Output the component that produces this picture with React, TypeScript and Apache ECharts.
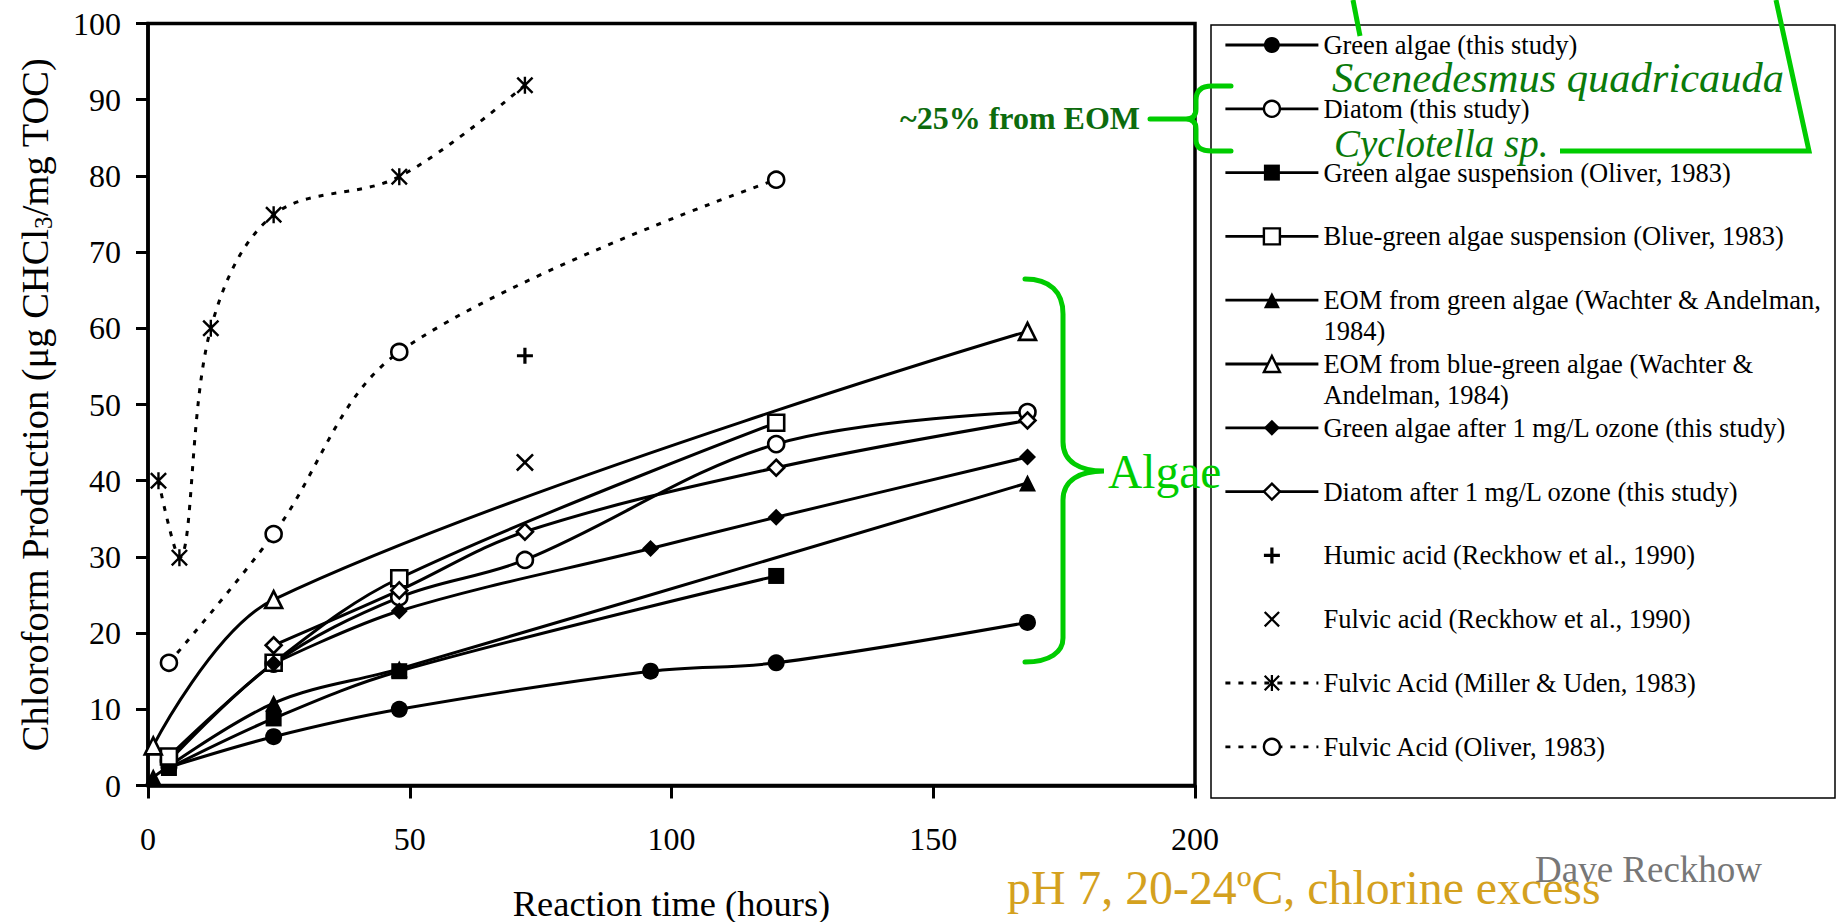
import React, { useEffect, useRef } from 'react';
import * as echarts from 'echarts';

const SERIF = "'Liberation Serif', 'Times New Roman', serif";

// ---------- data ----------
const seriesNames = [
  'Green algae (this study)',
  'Diatom (this study)',
  'Green algae suspension (Oliver, 1983)',
  'Blue-green algae suspension (Oliver, 1983)',
  'EOM from green algae (Wachter & Andelman, 1984)',
  'EOM from blue-green algae (Wachter & Andelman, 1984)',
  'Green algae after 1 mg/L ozone (this study)',
  'Diatom after 1 mg/L ozone (this study)',
  'Humic acid (Reckhow et al., 1990)',
  'Fulvic acid (Reckhow et al., 1990)',
  'Fulvic Acid (Miller & Uden, 1983)',
  'Fulvic Acid (Oliver, 1983)',
];

// [reaction time (hours), chloroform (µg CHCl3 / mg TOC)]
const greenAlgae = [[4, 2.4], [24, 6.4], [48, 10.0], [96, 15.0], [120, 16.1], [168, 21.4]];
const diatom = [[4, 3.2], [24, 16.0], [48, 24.7], [72, 29.6], [120, 44.8], [168, 49.0]];
const greenSuspension = [[4, 2.3], [24, 8.8], [48, 15.0], [120, 27.5]];
const blueGreenSuspension = [[4, 3.8], [24, 16.1], [48, 27.2], [120, 47.6]];
const eomGreen = [[1, 1.1], [24, 10.8], [48, 15.3], [168, 39.7]];
const eomBlueGreen = [[1, 5.2], [24, 24.4], [168, 59.6]];
const greenOzone = [[24, 16.0], [48, 22.9], [96, 31.1], [120, 35.2], [168, 43.1]];
const diatomOzone = [[24, 18.4], [48, 25.6], [72, 33.3], [120, 41.7], [168, 47.9]];
const humicAcid = [[72, 56.4]];
const fulvicReckhow = [[72, 42.4]];
const fulvicMillerUden = [[2, 40.0], [6, 29.9], [12, 60.0], [24, 74.9], [48, 79.9], [72, 91.9]];
const fulvicOliver = [[4, 16.1], [24, 33.0], [48, 56.9], [120, 79.5]];

const xMin = 0, xMax = 200, xStep = 50;
const yMin = 0, yMax = 100, yStep = 10;

const legendWrapped: Record<string, string[]> = {
  'EOM from green algae (Wachter & Andelman, 1984)': ['EOM from green algae (Wachter & Andelman,', '1984)'],
  'EOM from blue-green algae (Wachter & Andelman, 1984)': ['EOM from blue-green algae (Wachter &', 'Andelman, 1984)'],
};
const markerOnly = ['Humic acid (Reckhow et al., 1990)', 'Fulvic acid (Reckhow et al., 1990)'];

// ---------- symbols ----------
const PLUS = 'path://M4,0H6V4H10V6H6V10H4V6H0V4H4Z';
const CROSS = 'path://M0,1L1,0L5,4L9,0L10,1L6,5L10,9L9,10L5,6L1,10L0,9L4,5Z';
const STAR = 'path://M0,1L1,0L5,4L9,0L10,1L6,5L10,9L9,10L5,6L1,10L0,9L4,5Z M4.3,0H5.7V10H4.3Z';

// ---------- annotation shapes ----------
echarts.graphic.registerShape(
  'bigBrace',
  echarts.graphic.extendPath(
    'M1025,279 C1050,279 1063,292 1063,314 L1063,442 C1063,462 1080,471 1104,471 C1080,471 1063,480 1063,500 L1063,638 C1063,652 1050,662 1025,662',
    {}
  ) as any
);
echarts.graphic.registerShape(
  'smallBrace',
  echarts.graphic.extendPath(
    'M1231,86 L1212,86 C1201,86 1196,91 1196,100 L1196,109 C1196,116 1192,119 1186,119 C1192,119 1196,122 1196,129 L1196,140 C1196,147 1201,151 1212,151 L1231,151 M1150,119 L1186,119',
    {}
  ) as any
);

function mk(
  name: string,
  data: number[][],
  symbol: string,
  symbolSize: number,
  opt: { dashed?: boolean; noLine?: boolean; hollow?: boolean } = {}
) {
  return {
    type: 'line',
    name,
    data,
    symbol,
    symbolSize,
    smooth: 0.35,
    showSymbol: true,
    lineStyle: {
      color: '#000',
      width: opt.noLine ? 0 : 3,
      type: opt.dashed ? [5, 8] : 'solid',
    },
    itemStyle: opt.hollow
      ? { color: '#fff', borderColor: '#000', borderWidth: 2.6 }
      : { color: '#000', borderWidth: 0 },
    emphasis: { disabled: true },
  };
}

const LEGEND_LINE = 31;

export default function App() {
  const ref = useRef<HTMLDivElement>(null);
  useEffect(() => {
    if (!ref.current) return;
    const chart = echarts.init(ref.current, undefined, { renderer: 'svg' });
    const axisText = { fontFamily: SERIF, fontSize: 32, color: '#000' };
    const legendData = seriesNames.map((name) => ({
      name,
      textStyle: {
        padding: legendWrapped[name] ? [LEGEND_LINE, 0, 0, 0] : [LEGEND_LINE, 0, LEGEND_LINE, 0],
      },
      ...(markerOnly.includes(name) ? { lineStyle: { width: 0 } } : {}),
    }));
    const option: any = {
      animation: false,
      backgroundColor: '#fff',
      grid: {
        left: 148, right: 648, top: 23.5, bottom: 136.5,
        show: true, borderColor: '#000', borderWidth: 3.5,
        containLabel: false, outerBoundsMode: 'none',
      },
      xAxis: {
        type: 'value', min: xMin, max: xMax, interval: xStep,
        axisLine: { show: true, lineStyle: { color: '#000', width: 3.5 } },
        axisTick: { show: true, inside: false, length: 13, lineStyle: { color: '#000', width: 3 } },
        axisLabel: { ...axisText, margin: 37 },
        splitLine: { show: false },
        name: 'Reaction time (hours)',
        nameLocation: 'middle',
        nameGap: 100,
        nameTextStyle: { fontFamily: SERIF, fontSize: 36.4, color: '#000' },
      },
      yAxis: {
        type: 'value', min: yMin, max: yMax, interval: yStep,
        axisLine: { show: true, lineStyle: { color: '#000', width: 3.5 } },
        axisTick: { show: true, inside: false, length: 12, lineStyle: { color: '#000', width: 3 } },
        axisLabel: { ...axisText, margin: 27 },
        splitLine: { show: false },
        name: '{t|Chloroform Production (μg CHCl}{s|3}{t|/mg TOC)}',
        nameLocation: 'middle',
        nameRotate: 90,
        nameGap: 92,
        nameTextStyle: {
          fontFamily: SERIF, fontSize: 38.5, color: '#000',
          rich: {
            t: { fontFamily: SERIF, fontSize: 38.5, lineHeight: 42, color: '#000' },
            s: { fontFamily: SERIF, fontSize: 25, lineHeight: 24, verticalAlign: 'bottom', color: '#000' },
          },
        },
      },
      legend: {
        orient: 'vertical',
        left: 1224,
        top: -1.5,
        padding: 0,
        itemGap: 63.8 - 3 * LEGEND_LINE,
        itemWidth: 93,
        itemHeight: 20,
        selectedMode: false,
        data: legendData,
        formatter: (name: string) =>
          (legendWrapped[name] ?? [name]).map((line) => '{a|' + line + '}').join('\n'),
        textStyle: {
          fontFamily: SERIF, fontSize: 26.5, color: '#000', lineHeight: LEGEND_LINE,
          rich: { a: { fontFamily: SERIF, fontSize: 26.5, color: '#000', lineHeight: LEGEND_LINE } },
        },
        lineStyle: { width: 2.8 },
        itemStyle: { borderWidth: 2.4 },
      },
      series: [
        mk(seriesNames[0], greenAlgae, 'circle', 17),
        mk(seriesNames[1], diatom, 'circle', 16, { hollow: true }),
        mk(seriesNames[2], greenSuspension, 'rect', 16),
        mk(seriesNames[3], blueGreenSuspension, 'rect', 16, { hollow: true }),
        mk(seriesNames[4], eomGreen, 'triangle', 17),
        mk(seriesNames[5], eomBlueGreen, 'triangle', 17, { hollow: true }),
        mk(seriesNames[6], greenOzone, 'diamond', 17),
        mk(seriesNames[7], diatomOzone, 'diamond', 16, { hollow: true }),
        mk(seriesNames[8], humicAcid, PLUS, 16, { noLine: true }),
        mk(seriesNames[9], fulvicReckhow, CROSS, 18, { noLine: true }),
        mk(seriesNames[10], fulvicMillerUden, STAR, 17, { dashed: true }),
        mk(seriesNames[11], fulvicOliver, 'circle', 16, { dashed: true, hollow: true }),
      ],
      graphic: [
        { type: 'rect', silent: true, shape: { x: 1211, y: 25, width: 624, height: 773 },
          style: { fill: 'none', stroke: '#000', lineWidth: 1.5 } },
        { type: 'bigBrace', silent: true, x: 0, y: 0,
          style: { fill: 'none', stroke: '#00cc00', lineWidth: 5, lineCap: 'round' } },
        { type: 'smallBrace', silent: true, x: 0, y: 0,
          style: { fill: 'none', stroke: '#00cc00', lineWidth: 5, lineCap: 'round' } },
        { type: 'polyline', silent: true, shape: { points: [[1353, 0], [1360, 36]] },
          style: { fill: 'none', stroke: '#00cc00', lineWidth: 5 } },
        { type: 'polyline', silent: true, shape: { points: [[1776, 0], [1809, 151], [1560, 151]] },
          style: { fill: 'none', stroke: '#00cc00', lineWidth: 5 } },
        { type: 'text', silent: true, x: 900, y: 118,
          style: { text: '~25% from EOM', fontFamily: SERIF, fontSize: 32, fontWeight: 'bold',
            fill: '#0d6b0d', align: 'left', verticalAlign: 'middle' } },
        { type: 'text', silent: true, x: 1332, y: 77,
          style: { text: 'Scenedesmus quadricauda', fontFamily: SERIF, fontSize: 42.5, fontStyle: 'italic',
            fill: '#0a7a0a', align: 'left', verticalAlign: 'middle' } },
        { type: 'text', silent: true, x: 1334, y: 143,
          style: { text: 'Cyclotella sp.', fontFamily: SERIF, fontSize: 39, fontStyle: 'italic',
            fill: '#0a7a0a', align: 'left', verticalAlign: 'middle' } },
        { type: 'text', silent: true, x: 1108, y: 472,
          style: { text: 'Algae', fontFamily: SERIF, fontSize: 47.5,
            fill: '#00cc00', align: 'left', verticalAlign: 'middle' } },
        { type: 'text', silent: true, x: 1535, y: 869,
          style: { text: 'Dave Reckhow', fontFamily: SERIF, fontSize: 37,
            fill: '#777777', align: 'left', verticalAlign: 'middle' } },
        { type: 'text', silent: true, x: 1007, y: 887,
          style: { text: 'pH 7, 20-24ºC, chlorine excess', fontFamily: SERIF, fontSize: 47.8,
            fill: '#d4a11e', align: 'left', verticalAlign: 'middle' } },
      ],
    };
    chart.setOption(option);
    return () => chart.dispose();
  }, []);
  return (
    <div
      ref={ref}
      style={{ position: 'fixed', left: 0, top: 0, width: 1843, height: 922, background: '#fff' }}
    />
  );
}
